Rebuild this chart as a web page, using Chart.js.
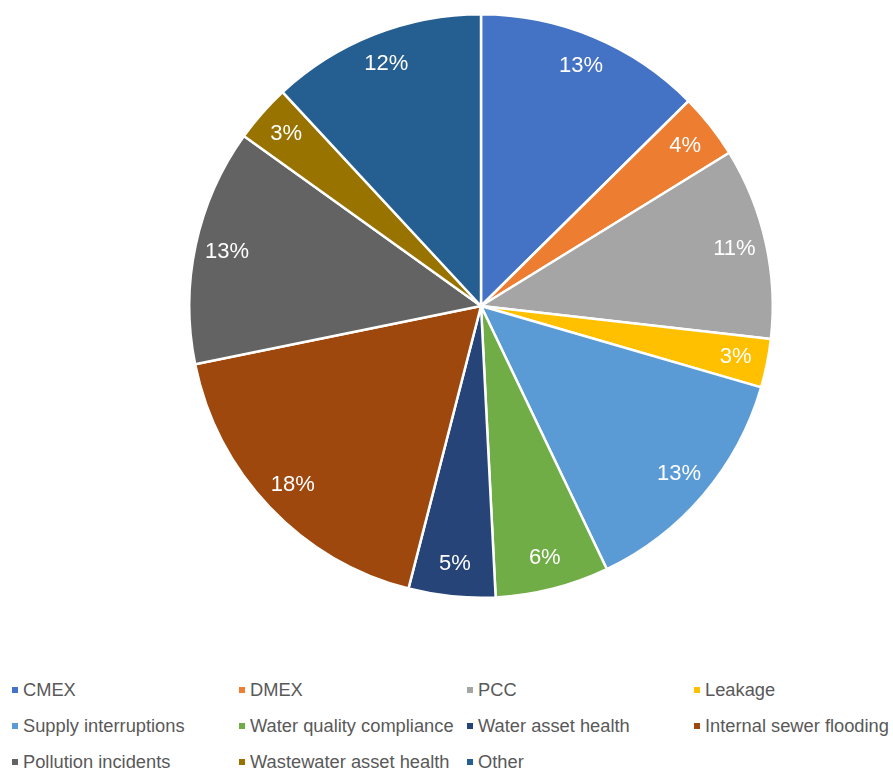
<!DOCTYPE html>
<html>
<head>
<meta charset="utf-8">
<script src="https://cdn.jsdelivr.net/npm/chart.js@4/dist/chart.umd.min.js"></script>
<style>
  body { margin: 0; background: #fff; font-family: "Liberation Sans", Arial, sans-serif; }
  #wrap { position: relative; width: 893px; height: 771px; }
  #pie { position: absolute; left: 0; top: 0; }
  .leg { position: absolute; font-size: 18.3px; color: #595959; line-height: 20px; white-space: nowrap; }
  .leg i { position: absolute; left: 0; top: 7px; width: 6px; height: 6px; }
  .leg span { position: absolute; left: 11px; top: 0; }
</style>
</head>
<body>
<div id="wrap">
  <canvas id="pie" width="893" height="612"></canvas>
  <div id="legend"></div>
</div>
<script>
// categorias e valores (percentuais)
var categorias = ['CMEX', 'DMEX', 'PCC', 'Leakage', 'Supply interruptions', 'Water quality compliance',
  'Water asset health', 'Internal sewer flooding', 'Pollution incidents', 'Wastewater asset health', 'Other'];
var valores = [12.6, 3.6, 10.6, 2.7, 13.4, 6.3, 4.8, 17.8, 13.1, 3.2, 11.9];
var cores = ['#4472C4', '#ED7D31', '#A5A5A5', '#FFC000', '#5B9BD5', '#70AD47',
  '#264478', '#9E480E', '#636363', '#997300', '#255E91'];

var total = valores.reduce(function (a, b) { return a + b; }, 0);

// plugin para escrever as porcentagens dentro das fatias
var rotulos = {
  id: 'rotulos',
  afterDatasetsDraw: function (chart) {
    var ctx = chart.ctx;
    var meta = chart.getDatasetMeta(0);
    ctx.save();
    ctx.fillStyle = '#ffffff';
    ctx.font = '22px "Liberation Sans", Arial, sans-serif';
    ctx.textAlign = 'center';
    ctx.textBaseline = 'middle';
    meta.data.forEach(function (arc, i) {
      var p = arc.getProps(['x', 'y', 'startAngle', 'endAngle', 'outerRadius'], true);
      var meio = (p.startAngle + p.endAngle) / 2;
      var r = p.outerRadius * 0.89;
      var txt = Math.round(valores[i] / total * 100) + '%';
      ctx.fillText(txt, p.x + Math.cos(meio) * r, p.y + Math.sin(meio) * r);
    });
    ctx.restore();
  }
};

var myChart = new Chart(document.getElementById('pie').getContext('2d'), {
  type: 'pie',
  data: {
    labels: categorias,
    datasets: [{
      data: valores,
      backgroundColor: cores,
      borderColor: '#ffffff',
      borderWidth: 2.5
    }]
  },
  options: {
    responsive: false,
    animation: false,
    layout: { padding: { left: 69, right: 0, top: 13, bottom: 13 } },
    plugins: {
      legend: { display: false },
      tooltip: { enabled: false }
    }
  },
  plugins: [rotulos]
});

// legenda em html, 4 colunas
var legenda = document.getElementById('legend');
var colX = [12, 239, 467, 694];
var linhaY = [680, 716, 752];
categorias.forEach(function (nome, i) {
  var d = document.createElement('div');
  d.className = 'leg';
  d.style.left = colX[i % 4] + 'px';
  d.style.top = linhaY[Math.floor(i / 4)] + 'px';
  d.innerHTML = '<i style="background:' + cores[i] + '"></i><span>' + nome + '</span>';
  legenda.appendChild(d);
});
</script>
</body>
</html>
